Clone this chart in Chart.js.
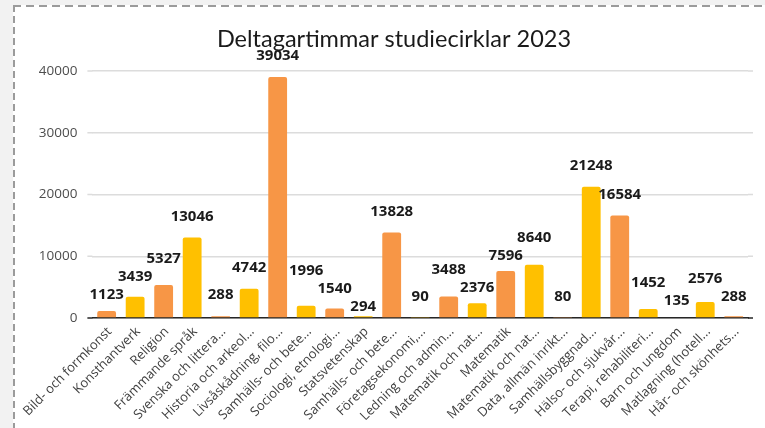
<!DOCTYPE html>
<html>
<head>
<meta charset="utf-8">
<script src="https://cdn.jsdelivr.net/npm/chart.js@4/dist/chart.umd.min.js"></script>
<style>
  html, body { margin: 0; padding: 0; background: #f2f2f2; width: 765px; height: 428px; overflow: hidden; }
  #card {
    position: absolute; left: 13px; top: 5px; width: 800px; height: 480px;
    background: #ffffff;
  }
  #bt { position: absolute; left: 13px; top: 5px; width: 760px; height: 2px;
    background: repeating-linear-gradient(90deg, #9b9b9b 0 8px, transparent 8px 13px); }
  #bl { position: absolute; left: 13px; top: 5px; width: 2px; height: 430px;
    background: repeating-linear-gradient(180deg, #9b9b9b 0 7px, transparent 7px 11px); }
  #wrap { position: absolute; left: 15px; top: 7px; width: 758px; height: 421px; }
</style>
</head>
<body>
<div id="card"></div>
<div id="bt"></div>
<div id="bl"></div>
<div id="wrap"><canvas id="c" width="758" height="421"></canvas></div>
<script>
const titleText = "Deltagartimmar studiecirklar 2023";
const categories = [
  "Bild- och formkonst", "Konsthantverk", "Religion", "Främmande språk",
  "Svenska och littera...", "Historia och arkeol...", "Livsåskådning, filo...",
  "Samhälls- och bete...", "Sociologi, etnologi...", "Statsvetenskap",
  "Samhälls- och bete...", "Företagsekonomi,...", "Ledning och admin...",
  "Matematik och nat...", "Matematik", "Matematik och nat...",
  "Data, allmän inrikt...", "Samhällsbyggnad...", "Hälso- och sjukvår...",
  "Terapi, rehabiliteri...", "Barn och ungdom", "Matlagning (hotell...",
  "Hår- och skönhets..."
];
const hours = [1123, 3439, 5327, 13046, 288, 4742, 39034, 1996, 1540, 294, 13828,
  90, 3488, 2376, 7596, 8640, 80, 21248, 16584, 1452, 135, 2576, 288];
const yTicks = [0, 10000, 20000, 30000, 40000];

const ORANGE = "#f79646", YELLOW = "#ffc000";
const barColors = hours.map((v, i) => i % 2 === 0 ? ORANGE : YELLOW);

// Title centred on the whole card
const cardTitle = {
  id: "cardTitle",
  afterDraw(chart) {
    const ctx = chart.ctx;
    ctx.save();
    ctx.font = "23.5px Lato";
    ctx.fillStyle = "#1a1a1a";
    ctx.textAlign = "center";
    ctx.textBaseline = "middle";
    ctx.fillText(titleText, chart.width / 2, 32);
    ctx.restore();
  }
};

// Value labels above bars, with a simple overlap-avoidance relaxation
const valueLabels = {
  id: "valueLabels",
  afterDatasetsDraw(chart) {
    const ctx = chart.ctx;
    const meta = chart.getDatasetMeta(0);
    ctx.save();
    ctx.font = "bold 15px 'Open Sans'";
    ctx.fillStyle = "#1a1a1a";
    ctx.textAlign = "center";
    ctx.textBaseline = "middle";
    const H = 18;
    const items = meta.data.map((bar, i) => {
      const t = String(hours[i]);
      return { t, x: bar.x, y: bar.y - 21, w: ctx.measureText(t).width };
    });
    for (let it = 0; it < 200; it++) {
      for (let i = 0; i < items.length; i++) {
        for (let j = i + 1; j < items.length; j++) {
          const a = items[i], b = items[j];
          if (Math.abs(a.x - b.x) >= (a.w + b.w) / 2) continue;
          const d = Math.abs(a.y - b.y);
          if (d >= H) continue;
          const push = (H - d) / 2;
          if (a.y <= b.y) { a.y -= push; b.y += push; }
          else { a.y += push; b.y -= push; }
        }
      }
    }
    items.forEach(o => ctx.fillText(o.t, o.x, o.y));
    ctx.restore();
  }
};

const gridExtend = {
  id: "gridExtend",
  afterDraw(chart) {
    const ctx = chart.ctx, a = chart.chartArea, y = chart.scales.y;
    ctx.save();
    yTicks.forEach(t => {
      const py = y.getPixelForValue(t);
      ctx.strokeStyle = t === 0 ? "#262626" : "#dcdcdc";
      ctx.lineWidth = 1.5;
      ctx.beginPath();
      ctx.moveTo(a.left - 5, py);
      ctx.lineTo(a.left, py);
      ctx.moveTo(a.right, py);
      ctx.lineTo(a.right + 5, py);
      ctx.stroke();
    });
    ctx.restore();
  }
};

new Chart(document.getElementById("c"), {
  type: "bar",
  data: {
    labels: categories,
    datasets: [{
      data: hours,
      backgroundColor: barColors,
      borderRadius: 2,
      borderSkipped: "bottom",
      categoryPercentage: 1,
      barPercentage: 0.66
    }]
  },
  options: {
    responsive: false,
    animation: false,
    devicePixelRatio: 1,
    layout: { padding: { left: 0, right: 25, top: 64, bottom: 0 } },
    plugins: {
      legend: { display: false },
      tooltip: { enabled: false },
      title: { display: false }
    },
    scales: {
      x: {
        grid: { display: false, drawTicks: false },
        border: { display: true, color: "#262626", width: 1.5 },
        ticks: {
          color: "#404040",
          font: { family: "Open Sans", size: 13 },
          maxRotation: 45, minRotation: 45,
          autoSkip: false,
          padding: 6,
          labelOffset: 3
        },
        afterFit(s) { s.height = 110; }
      },
      y: {
        min: 0, max: 40000,
        afterBuildTicks(s) { s.ticks = yTicks.map(v => ({ value: v })); },
        grid: { color: "#dcdcdc", lineWidth: 1.5, drawTicks: false },
        border: { display: false },
        ticks: {
          color: "#4d4d4d",
          font: { family: "Open Sans", size: 13.5 },
          padding: 15,
          callback: v => String(v)
        },
        afterFit(s) { s.width = 73; }
      }
    }
  },
  plugins: [valueLabels, gridExtend, cardTitle]
});
</script>
</body>
</html>
